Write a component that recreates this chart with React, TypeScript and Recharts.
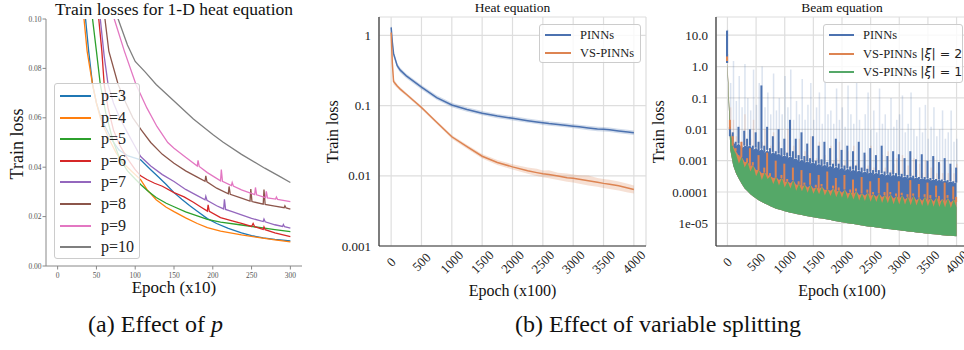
import React from 'react';
import { LineChart, ComposedChart, Line, Area, Bar, XAxis, YAxis, CartesianGrid } from 'recharts';

const SERIF = '"Liberation Serif", "Times New Roman", serif';
const MATH = '"DejaVu Sans", sans-serif';

// ---------- (a) effect of p : [epoch (x10), train loss] ----------
const P_NAMES = ['p=3', 'p=4', 'p=5', 'p=6', 'p=7', 'p=8', 'p=9', 'p=10'];
const P_COLORS = ['#1f77b4', '#ff7f0e', '#2ca02c', '#d62728', '#9467bd', '#8c564b', '#e377c2', '#7f7f7f'];

const p3 = [[25, 0.16], [30, 0.125], [36, 0.1], [40, 0.087], [45, 0.0735], [50, 0.066], [55, 0.061], [62, 0.056], [70, 0.051], [79, 0.047], [90, 0.0447], [107, 0.043], [120, 0.039], [130, 0.036], [140, 0.033], [150, 0.0297], [160, 0.027], [170, 0.0245], [180, 0.0222], [193, 0.0192], [205, 0.0172], [220, 0.0152], [237, 0.0134], [250, 0.0123], [265, 0.0114], [280, 0.0108], [300, 0.0102]];
const p4 = [[24, 0.15], [29, 0.115], [34, 0.1], [38, 0.087], [45, 0.0735], [50, 0.066], [55, 0.06], [60, 0.056], [67, 0.051], [75, 0.046], [85, 0.0415], [95, 0.0385], [107, 0.035], [115, 0.031], [127, 0.0268], [140, 0.0238], [150, 0.022], [165, 0.0195], [180, 0.0172], [193, 0.0155], [210, 0.0141], [237, 0.0126], [260, 0.0115], [280, 0.0106], [300, 0.0098]];
const p5 = [[32, 0.16], [40, 0.118], [45, 0.1], [50, 0.087], [55, 0.0735], [62, 0.062], [71, 0.051], [80, 0.0435], [90, 0.0385], [100, 0.0352], [107, 0.033], [117, 0.0302], [127, 0.0277], [140, 0.0254], [150, 0.024], [165, 0.0219], [180, 0.0203], [193, 0.0189], [210, 0.0178], [237, 0.0166], [260, 0.0156], [280, 0.0147], [300, 0.0139]];
const p6 = [[40, 0.15], [46, 0.12], [53, 0.1], [57, 0.087], [60, 0.0735], [65, 0.064], [72, 0.055], [80, 0.049], [90, 0.0435], [100, 0.039], [107, 0.0365], [115, 0.035], [125, 0.0335], [135, 0.0323], [150, 0.0297], [163, 0.028], [175, 0.0258], [185, 0.0238], [193, 0.0222], [194, 0.0248], [195.5, 0.0221], [210, 0.0196], [225, 0.0183], [237, 0.0173], [250, 0.016], [252, 0.0172], [254, 0.0159], [265, 0.0148], [266, 0.0158], [267.5, 0.0147], [280, 0.0134], [300, 0.0119]];
const p7 = [[46, 0.15], [50, 0.125], [55, 0.1], [60, 0.085], [65, 0.0735], [72, 0.066], [80, 0.06], [90, 0.054], [97, 0.05], [107, 0.0443], [120, 0.0405], [135, 0.037], [150, 0.0342], [165, 0.031], [180, 0.0285], [190, 0.0268], [191, 0.0282], [192.5, 0.0266], [205, 0.0244], [214, 0.0231], [215, 0.027], [216.5, 0.0229], [225, 0.022], [237, 0.0207], [250, 0.0193], [265, 0.018], [266, 0.019], [267.5, 0.0179], [280, 0.0167], [290, 0.016], [291, 0.0168], [292.5, 0.0159], [300, 0.0153]];
const p8 = [[50, 0.15], [55, 0.125], [61, 0.1], [66, 0.087], [78, 0.0735], [88, 0.066], [97, 0.06], [108, 0.055], [120, 0.05], [135, 0.0452], [150, 0.0416], [165, 0.0385], [180, 0.036], [190, 0.0343], [191, 0.0365], [192.5, 0.0341], [205, 0.0315], [220, 0.0292], [221, 0.0322], [222.5, 0.029], [237, 0.0275], [248, 0.0263], [249, 0.0312], [250.5, 0.0261], [265, 0.025], [266, 0.031], [267.5, 0.0249], [280, 0.0242], [292, 0.0236], [293, 0.0244], [294.5, 0.0235], [300, 0.023]];
const p9 = [[55, 0.16], [62, 0.13], [73, 0.1], [86, 0.087], [101, 0.0735], [115, 0.064], [128, 0.0565], [142, 0.05], [150, 0.0477], [165, 0.044], [180, 0.0405], [181, 0.0428], [182.5, 0.0403], [193, 0.0378], [210, 0.0345], [211, 0.039], [212.5, 0.0343], [224, 0.0326], [225, 0.0338], [226.5, 0.0324], [237, 0.0308], [254, 0.0289], [255, 0.0318], [256.5, 0.0288], [268, 0.0277], [269, 0.0302], [270.5, 0.0276], [281, 0.0271], [282, 0.0279], [283.5, 0.027], [300, 0.0261]];
const p10 = [[58, 0.15], [65, 0.125], [71, 0.11], [78, 0.1], [90, 0.0895], [100, 0.0828], [113, 0.0785], [127, 0.0735], [150, 0.0668], [175, 0.0595], [200, 0.0532], [213, 0.0502], [237, 0.0452], [267, 0.0396], [285, 0.0365], [300, 0.0338]];
const P_SERIES = [p3, p4, p5, p6, p7, p8, p9, p10];

const A_XTICKS = [0, 50, 100, 150, 200, 250, 300];
const A_YTICKS = [0, 0.02, 0.04, 0.06, 0.08, 0.1];

// ---------- (b) heat equation : epoch (x100) ----------
const HEAT_X = [0, 20, 40, 100, 150, 250, 500, 750, 1000, 1250, 1500, 1750, 2000, 2250, 2400, 2500, 2600, 2750, 2900, 3000, 3100, 3250, 3400, 3500, 3600, 3750, 3900, 4000];
const HEAT_PINNS = [1.3, 0.8, 0.55, 0.37, 0.32, 0.265, 0.183, 0.13, 0.102, 0.088, 0.078, 0.071, 0.066, 0.061, 0.0585, 0.057, 0.0555, 0.054, 0.0522, 0.051, 0.0498, 0.048, 0.0465, 0.046, 0.0452, 0.0435, 0.042, 0.041];
const HEAT_PINNS_LO = [1.2, 0.72, 0.5, 0.34, 0.295, 0.245, 0.17, 0.121, 0.095, 0.082, 0.073, 0.066, 0.0615, 0.057, 0.0545, 0.053, 0.0517, 0.0502, 0.0486, 0.0474, 0.0463, 0.0447, 0.0433, 0.0428, 0.042, 0.0405, 0.039, 0.0381];
const HEAT_PINNS_HI = [1.4, 0.88, 0.6, 0.4, 0.345, 0.285, 0.197, 0.14, 0.11, 0.095, 0.084, 0.076, 0.071, 0.0655, 0.063, 0.0613, 0.0597, 0.058, 0.0561, 0.0548, 0.0535, 0.0516, 0.05, 0.0495, 0.0486, 0.0468, 0.0452, 0.0441];
const HEAT_VS = [1.1, 0.4, 0.22, 0.19, 0.172, 0.145, 0.094, 0.058, 0.036, 0.026, 0.019, 0.0155, 0.0134, 0.0118, 0.0111, 0.0107, 0.0104, 0.0099, 0.0094, 0.0092, 0.0089, 0.0085, 0.0081, 0.0078, 0.0076, 0.0072, 0.0067, 0.0064];
const HEAT_VS_LO = [1.0, 0.36, 0.2, 0.178, 0.162, 0.137, 0.089, 0.055, 0.0338, 0.0243, 0.0176, 0.0143, 0.0123, 0.0107, 0.0099, 0.0095, 0.0092, 0.0087, 0.0082, 0.008, 0.0077, 0.0073, 0.007, 0.0067, 0.0065, 0.0062, 0.0058, 0.0056];
const HEAT_VS_HI = [1.2, 0.44, 0.24, 0.202, 0.182, 0.153, 0.099, 0.061, 0.0382, 0.0278, 0.0205, 0.0168, 0.0146, 0.0131, 0.0126, 0.0119, 0.012, 0.0111, 0.0108, 0.0104, 0.0102, 0.0101, 0.0093, 0.009, 0.0088, 0.0083, 0.0077, 0.0073];

const EPOCH_TICKS = [0, 500, 1000, 1500, 2000, 2500, 3000, 3500, 4000];
const HEAT_YTICKS = [0.001, 0.01, 0.1, 1];
const HEAT_YLABELS = ['0.001', '0.01', '0.1', '1'];

// ---------- (b) beam equation : per-step envelopes of the noisy runs ----------
const BEAM_X = [
  0, 50, 100, 150, 200, 250, 300, 350,
  400, 450, 500, 550, 600, 650, 700, 750, 800, 850,
  900, 950, 1000, 1050, 1100, 1150, 1200, 1250, 1300, 1350,
  1400, 1450, 1500, 1550, 1600, 1650, 1700, 1750, 1800, 1850,
  1900, 1950, 2000, 2050, 2100, 2150, 2200, 2250, 2300, 2350,
  2400, 2450, 2500, 2550, 2600, 2650, 2700, 2750, 2800, 2850,
  2900, 2950, 3000, 3050, 3100, 3150, 3200, 3250, 3300, 3350,
  3400, 3450, 3500, 3550, 3600, 3650, 3700, 3750, 3800, 3850,
  3900, 3950, 4000];
const GREEN_LO = [
  1.0, 2.2e-3, 7e-4, 3.9e-4, 2.6e-4, 1.8e-4, 1.3e-4, 1.05e-4,
  8.5e-5, 7.2e-5, 6.2e-5, 5.4e-5, 4.8e-5, 4.3e-5, 3.9e-5, 3.5e-5, 3.2e-5, 2.95e-5,
  2.75e-5, 2.6e-5, 2.45e-5, 2.32e-5, 2.2e-5, 2.1e-5, 2.0e-5, 1.92e-5, 1.84e-5, 1.76e-5,
  1.7e-5, 1.64e-5, 1.58e-5, 1.52e-5, 1.47e-5, 1.42e-5, 1.37e-5, 1.32e-5, 1.27e-5, 1.22e-5,
  1.17e-5, 1.13e-5, 1.09e-5, 1.05e-5, 1.01e-5, 9.8e-6, 9.5e-6, 9.2e-6, 8.9e-6, 8.6e-6,
  8.3e-6, 8.0e-6, 7.8e-6, 7.6e-6, 7.4e-6, 7.2e-6, 7.0e-6, 6.8e-6, 6.6e-6, 6.45e-6,
  6.3e-6, 6.15e-6, 6.0e-6, 5.85e-6, 5.7e-6, 5.55e-6, 5.4e-6, 5.28e-6, 5.16e-6, 5.04e-6,
  4.92e-6, 4.8e-6, 4.7e-6, 4.6e-6, 4.5e-6, 4.4e-6, 4.3e-6, 4.22e-6, 4.14e-6, 4.06e-6,
  4.0e-6, 3.95e-6, 3.9e-6];
const GREEN_HI = [
  1.3, 9e-3, 2.5e-3, 1.6e-3, 8e-4, 1.3e-3, 6e-4, 9e-4,
  4.5e-4, 7e-4, 3.2e-4, 5e-4, 2.4e-4, 4.2e-4, 2.6e-4, 3.2e-4, 1.8e-4, 3e-4,
  1.6e-4, 2.8e-4, 1.4e-4, 2.2e-4, 1.3e-4, 2.4e-4, 1.1e-4, 1.8e-4, 1.05e-4, 1.7e-4,
  9.5e-5, 1.7e-4, 8.8e-5, 1.4e-4, 8.5e-5, 1.5e-4, 7.8e-5, 1.2e-4, 7.4e-5, 1.3e-4,
  6.8e-5, 1.15e-4, 6.6e-5, 1.2e-4, 6e-5, 1e-4, 5.8e-5, 1.05e-4, 5.4e-5, 9e-5,
  5.2e-5, 9.5e-5, 4.9e-5, 8.5e-5, 4.8e-5, 9e-5, 4.5e-5, 8e-5, 4.4e-5, 8.4e-5,
  4.1e-5, 7.5e-5, 4e-5, 8e-5, 3.9e-5, 7e-5, 3.8e-5, 7.6e-5, 3.7e-5, 6.6e-5,
  3.6e-5, 7e-5, 3.5e-5, 6.4e-5, 3.4e-5, 6.8e-5, 3.3e-5, 6e-5, 3.2e-5, 6.5e-5,
  3.1e-5, 5.8e-5, 3.2e-5];
// top of the dense orange / blue bodies
const ORANGE_CORE = [
  1.5, 0.01, 3e-3, 2e-3, 1.4e-3, 1.3e-3, 9e-4, 9e-4,
  7e-4, 7e-4, 5e-4, 5e-4, 4e-4, 4.2e-4, 3.5e-4, 3.2e-4, 2.8e-4, 3e-4,
  2.4e-4, 2.8e-4, 2.1e-4, 2.2e-4, 1.9e-4, 2.4e-4, 1.7e-4, 1.8e-4, 1.5e-4, 1.7e-4,
  1.4e-4, 1.7e-4, 1.3e-4, 1.4e-4, 1.25e-4, 1.5e-4, 1.15e-4, 1.2e-4, 1.1e-4, 1.3e-4,
  1e-4, 1.15e-4, 9.5e-5, 1.2e-4, 9e-5, 1e-4, 8.5e-5, 1.05e-4, 8e-5, 9e-5,
  7.8e-5, 9.5e-5, 7.4e-5, 8.5e-5, 7e-5, 9e-5, 6.8e-5, 8e-5, 6.5e-5, 8.4e-5,
  6.2e-5, 7.5e-5, 6e-5, 8e-5, 5.8e-5, 7e-5, 5.6e-5, 7.6e-5, 5.5e-5, 6.6e-5,
  5.3e-5, 7e-5, 5.2e-5, 6.4e-5, 5e-5, 6.8e-5, 4.9e-5, 6e-5, 4.8e-5, 6.5e-5,
  4.6e-5, 5.8e-5, 4.8e-5];
const BLUE_CORE = [
  1.3, 6e-3, 4e-3, 3e-3, 3.5e-3, 2.5e-3, 3e-3, 2.8e-3,
  3e-3, 2.2e-3, 2.6e-3, 2e-3, 2.4e-3, 1.8e-3, 2.2e-3, 1.6e-3, 1.9e-3, 1.5e-3,
  1.7e-3, 1.3e-3, 1.5e-3, 1.2e-3, 1.4e-3, 1.1e-3, 1.2e-3, 9e-4, 1.1e-3, 8.5e-4,
  9.5e-4, 8e-4, 9e-4, 7e-4, 8e-4, 6.5e-4, 7.5e-4, 6e-4, 7e-4, 5.5e-4,
  6.5e-4, 5.2e-4, 6e-4, 4.8e-4, 5.6e-4, 4.5e-4, 5.2e-4, 4.3e-4, 5e-4, 4e-4,
  4.6e-4, 3.8e-4, 4.4e-4, 3.6e-4, 4.2e-4, 3.4e-4, 4e-4, 3.2e-4, 3.8e-4, 3.1e-4,
  3.6e-4, 3e-4, 3.4e-4, 2.8e-4, 3.2e-4, 2.7e-4, 3.1e-4, 2.6e-4, 3e-4, 2.5e-4,
  2.8e-4, 2.4e-4, 2.7e-4, 2.3e-4, 2.6e-4, 2.2e-4, 2.5e-4, 2.1e-4, 2.4e-4, 2e-4,
  2.2e-4, 1.9e-4, 2e-4];
// spike tops
const ORANGE_HI = [
  2.1, 0.02, 6e-3, 2.5e-3, 1.5e-3, 4e-3, 9e-4, 1.2e-3,
  2.5e-3, 9e-4, 5e-4, 1.5e-3, 4e-4, 6e-4, 1.8e-3, 4e-4, 2.8e-4, 1e-3,
  2.4e-4, 3.5e-4, 8e-4, 2.6e-4, 1.9e-4, 6e-4, 1.7e-4, 2.2e-4, 5e-4, 2e-4,
  1.4e-4, 4e-4, 1.3e-4, 1.7e-4, 3.5e-4, 1.8e-4, 1.15e-4, 4.5e-4, 1.1e-4, 1.6e-4,
  2.8e-4, 1.4e-4, 9.5e-5, 3.5e-4, 9e-5, 1.2e-4, 2.5e-4, 1.3e-4, 8e-5, 3e-4,
  7.8e-5, 1.2e-4, 2.2e-4, 1e-4, 7e-5, 2.8e-4, 6.8e-5, 1e-4, 2e-4, 1e-4,
  6.2e-5, 9e-5, 2.2e-4, 9.5e-5, 5.8e-5, 8.5e-5, 2.4e-4, 9e-5, 5.5e-5, 1.8e-4,
  5.3e-5, 8.5e-5, 2e-4, 8e-5, 5e-5, 1.6e-4, 7.5e-5, 6e-5, 2e-4, 8e-5,
  4.6e-5, 1.5e-4, 7e-5];
const BLUE_HI = [
  14, 0.012, 8e-3, 4e-3, 0.012, 3e-3, 9e-3, 5e-3,
  0.01, 3e-3, 8e-3, 4e-3, 0.25, 3e-3, 0.012, 2.5e-3, 6e-3, 2e-3,
  0.01, 2.5e-3, 5e-3, 1.8e-3, 0.02, 2e-3, 5e-3, 1.5e-3, 8e-3, 1.4e-3,
  3.5e-3, 1.2e-3, 6e-3, 1e-3, 3e-3, 1.1e-3, 4e-3, 9e-4, 2.5e-3, 8e-4,
  5e-3, 8e-4, 2.2e-3, 7e-4, 3e-3, 6.5e-4, 2e-3, 7e-4, 4e-3, 6e-4,
  1.8e-3, 5.5e-4, 2.5e-3, 5e-4, 1.5e-3, 5e-4, 3e-3, 4.5e-4, 1.4e-3, 4.2e-4,
  2e-3, 4e-4, 1.6e-3, 3.8e-4, 1.2e-3, 3.5e-4, 2e-3, 3.3e-4, 1.1e-3, 3e-4,
  1.6e-3, 3e-4, 1e-3, 2.8e-4, 1.4e-3, 2.6e-4, 9e-4, 2.5e-4, 1.2e-3, 2.4e-4,
  8e-4, 2.2e-4, 6e-4];
// faint spread of the individual runs
const BLUE_BAND_HI = [
  15, 0.3, 1.5, 0.08, 0.5, 0.05, 1.2, 0.1,
  0.04, 0.8, 0.06, 0.3, 1.0, 0.05, 0.15, 0.03, 0.6, 0.04,
  0.1, 0.03, 0.5, 0.05, 0.8, 0.02, 0.08, 0.03, 0.4, 0.02,
  0.06, 0.3, 0.02, 0.05, 0.15, 0.015, 0.35, 0.03, 0.04, 0.015,
  0.2, 0.02, 0.05, 0.012, 0.25, 0.03, 0.015, 0.3, 0.02, 0.01,
  0.03, 0.15, 0.01, 0.04, 0.008, 0.2, 0.015, 0.03, 0.01, 0.1,
  0.012, 0.02, 0.03, 0.12, 0.008, 0.015, 0.15, 0.01, 0.006, 0.05,
  0.008, 0.06, 0.005, 0.012, 0.05, 0.006, 0.01, 0.04, 0.005, 0.008,
  0.04, 0.004, 0.005];
const ORANGE_BAND_HI = [
  2.5, 0.05, 0.02, 0.006, 0.01, 0.004, 0.03, 0.003,
  0.005, 0.02, 0.003, 0.004, 0.004, 0.01, 0.0025, 0.003, 0.008, 0.002,
  0.004, 0.0015, 0.002, 0.01, 0.0015, 0.003, 0.002, 0.005, 0.0012, 0.002,
  0.0015, 0.006, 0.001, 0.0012, 0.004, 0.001, 0.0015, 0.0008, 0.003, 0.001,
  0.0012, 0.004, 0.0008, 0.001, 0.002, 0.0007, 0.003, 0.0008, 0.001, 0.0006,
  0.0015, 0.0007, 0.003, 0.0006, 0.001, 0.0005, 0.0015, 0.0006, 0.002, 0.0005,
  0.0008, 0.0012, 0.0005, 0.0015, 0.0005, 0.0007, 0.0004, 0.0012, 0.0005, 0.0008,
  0.0004, 0.001, 0.0004, 0.0006, 0.0012, 0.0004, 0.0008, 0.0004, 0.001, 0.0004,
  0.0006, 0.0004, 0.0008];

const BEAM_YTICKS = [1e-5, 1e-4, 1e-3, 0.01, 0.1, 1, 10];
const BEAM_YLABELS = ['1e-05', '0.0001', '0.001', '0.01', '0.1', '1.0', '10.0'];

const BLUE = '#4c72b0';
const ORANGE = '#dd8452';
const GREEN = '#55a868';

const heatRows = HEAT_X.map((x, i) => ({
  x,
  pinns: HEAT_PINNS[i],
  vs: HEAT_VS[i],
  pinnsBand: [HEAT_PINNS_LO[i], HEAT_PINNS_HI[i]],
  vsBand: [HEAT_VS_LO[i], HEAT_VS_HI[i]],
}));
const beamRows = BEAM_X.map((x, i) => ({
  x,
  blueBody: [GREEN_LO[i], BLUE_CORE[i]],
  orangeBody: [GREEN_LO[i], ORANGE_CORE[i]],
  greenBody: [GREEN_LO[i], GREEN_HI[i]],
  blueSpike: [BLUE_CORE[i], BLUE_HI[i]],
  orangeSpike: [ORANGE_CORE[i], ORANGE_HI[i]],
  blueBand: [BLUE_CORE[i], BLUE_BAND_HI[i]],
  orangeBand: [BLUE_CORE[i], ORANGE_BAND_HI[i]],
}));

const RotTick = (props: any) => {
  const { x, y, payload } = props;
  const cy = y + 16;
  return (
    <text x={x} y={cy} textAnchor="middle" dominantBaseline="central" transform={`rotate(-45 ${x} ${cy})`}
      fontSize={13} fontFamily={SERIF} fill="#222">{payload.value}</text>
  );
};

const yTick = { fontSize: 13, fontFamily: SERIF, fill: '#222' };
const FRAME = '#333';
const GRID = '#dedede';

function PanelA() {
  return (
    <LineChart width={320} height={300} margin={{ top: 19, right: 18, bottom: 14, left: 6 }}>
      <XAxis type="number" dataKey="x" domain={[-15, 315]} ticks={A_XTICKS} interval={0} allowDataOverflow height={20}
        stroke="#888" tickSize={3.5} tickMargin={3} tick={{ fontSize: 7.5, fill: '#555', fontFamily: SERIF }} />
      <XAxis xAxisId="top" orientation="top" type="number" domain={[0, 1]} height={0} tick={false} tickLine={false} stroke="#888" />
      <YAxis type="number" domain={[0, 0.1]} ticks={A_YTICKS} interval={0} allowDataOverflow width={40} stroke="#888"
        tickSize={3.5} tickMargin={1} tickFormatter={(v: number) => v.toFixed(2)}
        tick={{ fontSize: 7.5, fill: '#555', fontFamily: SERIF }} />
      <YAxis yAxisId="right" orientation="right" domain={[0, 1]} width={0} tick={false} tickLine={false} stroke="#888" />
      {P_SERIES.map((s, i) => (
        <Line key={P_NAMES[i]} name={P_NAMES[i]} data={s.map(([x, y]) => ({ x, y }))} dataKey="y" type="linear"
          stroke={P_COLORS[i]} strokeWidth={1.3} dot={false} isAnimationActive={false} />
      ))}
    </LineChart>
  );
}

function PanelHeat() {
  return (
    <ComposedChart width={330} height={300} data={heatRows} margin={{ top: 17, right: 4, bottom: 14, left: 7 }}>
      <CartesianGrid stroke={GRID} strokeWidth={1.2} />
      <XAxis type="number" dataKey="x" domain={[-200, 4200]} ticks={EPOCH_TICKS} interval={0} allowDataOverflow height={40}
        stroke={FRAME} strokeWidth={1.2} tickLine={false} tickSize={0} tickMargin={0} tick={<RotTick />} />
      <XAxis xAxisId="top" orientation="top" type="number" domain={[0, 1]} height={0} tick={false} tickLine={false} stroke={FRAME} strokeWidth={1.2} />
      <YAxis scale="log" type="number" domain={[0.001, 1.83]} ticks={HEAT_YTICKS} interval={0} allowDataOverflow width={52}
        stroke={FRAME} strokeWidth={1.2} tickLine={false} tickSize={0} tickMargin={8} tick={yTick}
        tickFormatter={(v: number) => HEAT_YLABELS[HEAT_YTICKS.indexOf(v)]} />
      <YAxis yAxisId="right" orientation="right" domain={[0, 1]} width={0} tick={false} tickLine={false} stroke={FRAME} strokeWidth={1.2} />
      <Area dataKey="pinnsBand" type="linear" fill={BLUE} fillOpacity={0.25} stroke="none" isAnimationActive={false} />
      <Area dataKey="vsBand" type="linear" fill={ORANGE} fillOpacity={0.25} stroke="none" isAnimationActive={false} />
      <Line dataKey="pinns" name="PINNs" type="linear" stroke={BLUE} strokeWidth={1.5} dot={false} isAnimationActive={false} />
      <Line dataKey="vs" name="VS-PINNs" type="linear" stroke={ORANGE} strokeWidth={1.5} dot={false} isAnimationActive={false} />
    </ComposedChart>
  );
}

// each bar series sits on its own hidden x axis so the bars overlap instead of being grouped
const BAR_AXES = ['bb', 'ob', 'bs', 'os'];

function PanelBeam() {
  return (
    <ComposedChart width={330} height={300} data={beamRows} margin={{ top: 17, right: 12, bottom: 14, left: 6 }}>
      <CartesianGrid stroke={GRID} strokeWidth={1.2} />
      <XAxis type="number" dataKey="x" domain={[-200, 4200]} ticks={EPOCH_TICKS} interval={0} allowDataOverflow height={40}
        stroke={FRAME} strokeWidth={1.2} tickLine={false} tickSize={0} tickMargin={0} tick={<RotTick />} />
      {BAR_AXES.map((id) => (
        <XAxis key={id} xAxisId={id} type="number" dataKey="x" domain={[-200, 4200]} allowDataOverflow hide />
      ))}
      <XAxis xAxisId="top" orientation="top" type="number" domain={[0, 1]} height={0} tick={false} tickLine={false} stroke={FRAME} strokeWidth={1.2} />
      <YAxis scale="log" type="number" domain={[1.9e-6, 38]} ticks={BEAM_YTICKS} interval={0} allowDataOverflow width={60}
        stroke={FRAME} strokeWidth={1.2} tickLine={false} tickSize={0} tickMargin={8} tick={yTick}
        tickFormatter={(v: number) => BEAM_YLABELS[BEAM_YTICKS.indexOf(v)]} />
      <YAxis yAxisId="right" orientation="right" domain={[0, 1]} width={0} tick={false} tickLine={false} stroke={FRAME} strokeWidth={1.2} />
      <Area dataKey="blueBody" name="PINNs" type="linear" fill={BLUE} fillOpacity={1} stroke="none" isAnimationActive={false} />
      <Area dataKey="orangeBody" name="VS-PINNs |ξ| = 2" type="linear" fill={ORANGE} fillOpacity={1} stroke="none" isAnimationActive={false} />
      <Area dataKey="greenBody" name="VS-PINNs |ξ| = 1" type="linear" fill={GREEN} fillOpacity={1} stroke="none" isAnimationActive={false} />
      <Bar xAxisId="bb" dataKey="blueBand" barSize={1.5} fill={BLUE} fillOpacity={0.2} isAnimationActive={false} />
      <Bar xAxisId="ob" dataKey="orangeBand" barSize={1.5} fill={ORANGE} fillOpacity={0.2} isAnimationActive={false} />
      <Bar xAxisId="bs" dataKey="blueSpike" barSize={2} fill={BLUE} isAnimationActive={false} />
      <Bar xAxisId="os" dataKey="orangeSpike" barSize={2} fill={ORANGE} isAnimationActive={false} />
    </ComposedChart>
  );
}

type LegendItem = { label: React.ReactNode; color: string };

function LegendBox({ left, top, width, rowH, items, fontSize, lineX, lineW, textX }: {
  left: number; top: number; width: number; rowH: number; items: LegendItem[]; fontSize: number; lineX: number; lineW: number; textX: number;
}) {
  return (
    <div style={{
      position: 'absolute', left, top, width, height: rowH * items.length + 3, boxSizing: 'border-box',
      background: 'rgba(255,255,255,0.8)', border: '1px solid #cccccc', borderRadius: 3, paddingTop: 1,
    }}>
      {items.map((it, i) => (
        <div key={i} style={{ position: 'relative', height: rowH }}>
          <div style={{ position: 'absolute', left: lineX, top: Math.round(rowH / 2) - 1, width: lineW, height: 2, background: it.color }} />
          <div style={{ position: 'absolute', left: textX, top: 0, height: rowH, lineHeight: `${rowH}px`, fontSize, fontFamily: SERIF, color: '#222', whiteSpace: 'nowrap' }}>
            {it.label}
          </div>
        </div>
      ))}
    </div>
  );
}

const xi = (n: string) => (
  <span>VS-PINNs <span style={{ fontFamily: MATH, fontSize: 12.5 }}>|<i>ξ</i>| = {n}</span></span>
);

export default function App() {
  return (
    <div style={{ position: 'fixed', left: 0, top: 0, width: 964, height: 350, overflow: 'hidden', background: '#fff' }}>
      <div style={{ position: 'absolute', left: 0, top: 0 }}><PanelA /></div>
      <div style={{ position: 'absolute', left: 320, top: 0 }}><PanelHeat /></div>
      <div style={{ position: 'absolute', left: 650, top: 0 }}><PanelBeam /></div>

      <LegendBox left={54} top={83} width={86} rowH={21.6} fontSize={16} lineX={5} lineW={31} textX={46}
        items={P_NAMES.map((n, i) => ({ label: n, color: P_COLORS[i] }))} />
      <LegendBox left={539} top={24} width={102} rowH={18} fontSize={12.5} lineX={5} lineW={26} textX={40}
        items={[{ label: 'PINNs', color: BLUE }, { label: 'VS-PINNs', color: ORANGE }]} />
      <LegendBox left={823} top={24} width={140} rowH={18.7} fontSize={12.5} lineX={5} lineW={25} textX={39}
        items={[{ label: 'PINNs', color: BLUE }, { label: xi('2'), color: ORANGE }, { label: xi('1'), color: GREEN }]} />

      <svg width={964} height={350} style={{ position: 'absolute', left: 0, top: 0, pointerEvents: 'none' }} fontFamily={SERIF} fill="#111">
        <text x={174} y={15} fontSize={17.5} textAnchor="middle">Train losses for 1-D heat equation</text>
        <text x={174} y={293} fontSize={17} textAnchor="middle">Epoch (x10)</text>
        <text x={16.5} y={144} fontSize={18} textAnchor="middle" dominantBaseline="central" transform="rotate(-90 16.5 144)">Train loss</text>

        <text x={512.5} y={11.5} fontSize={13.5} textAnchor="middle">Heat equation</text>
        <text x={512.5} y={295.5} fontSize={16} textAnchor="middle">Epoch (x100)</text>
        <text x={333} y={131.7} fontSize={16} textAnchor="middle" dominantBaseline="central" transform="rotate(-90 333 131.7)">Train loss</text>

        <text x={842} y={11.5} fontSize={13.5} textAnchor="middle">Beam equation</text>
        <text x={842} y={295.5} fontSize={16} textAnchor="middle">Epoch (x100)</text>
        <text x={659} y={131.7} fontSize={16} textAnchor="middle" dominantBaseline="central" transform="rotate(-90 659 131.7)">Train loss</text>

        <text x={155.5} y={332} fontSize={24} textAnchor="middle">(a) Effect of <tspan fontStyle="italic">p</tspan></text>
        <text x={658} y={332} fontSize={24} textAnchor="middle">(b) Effect of variable splitting</text>
      </svg>
    </div>
  );
}
